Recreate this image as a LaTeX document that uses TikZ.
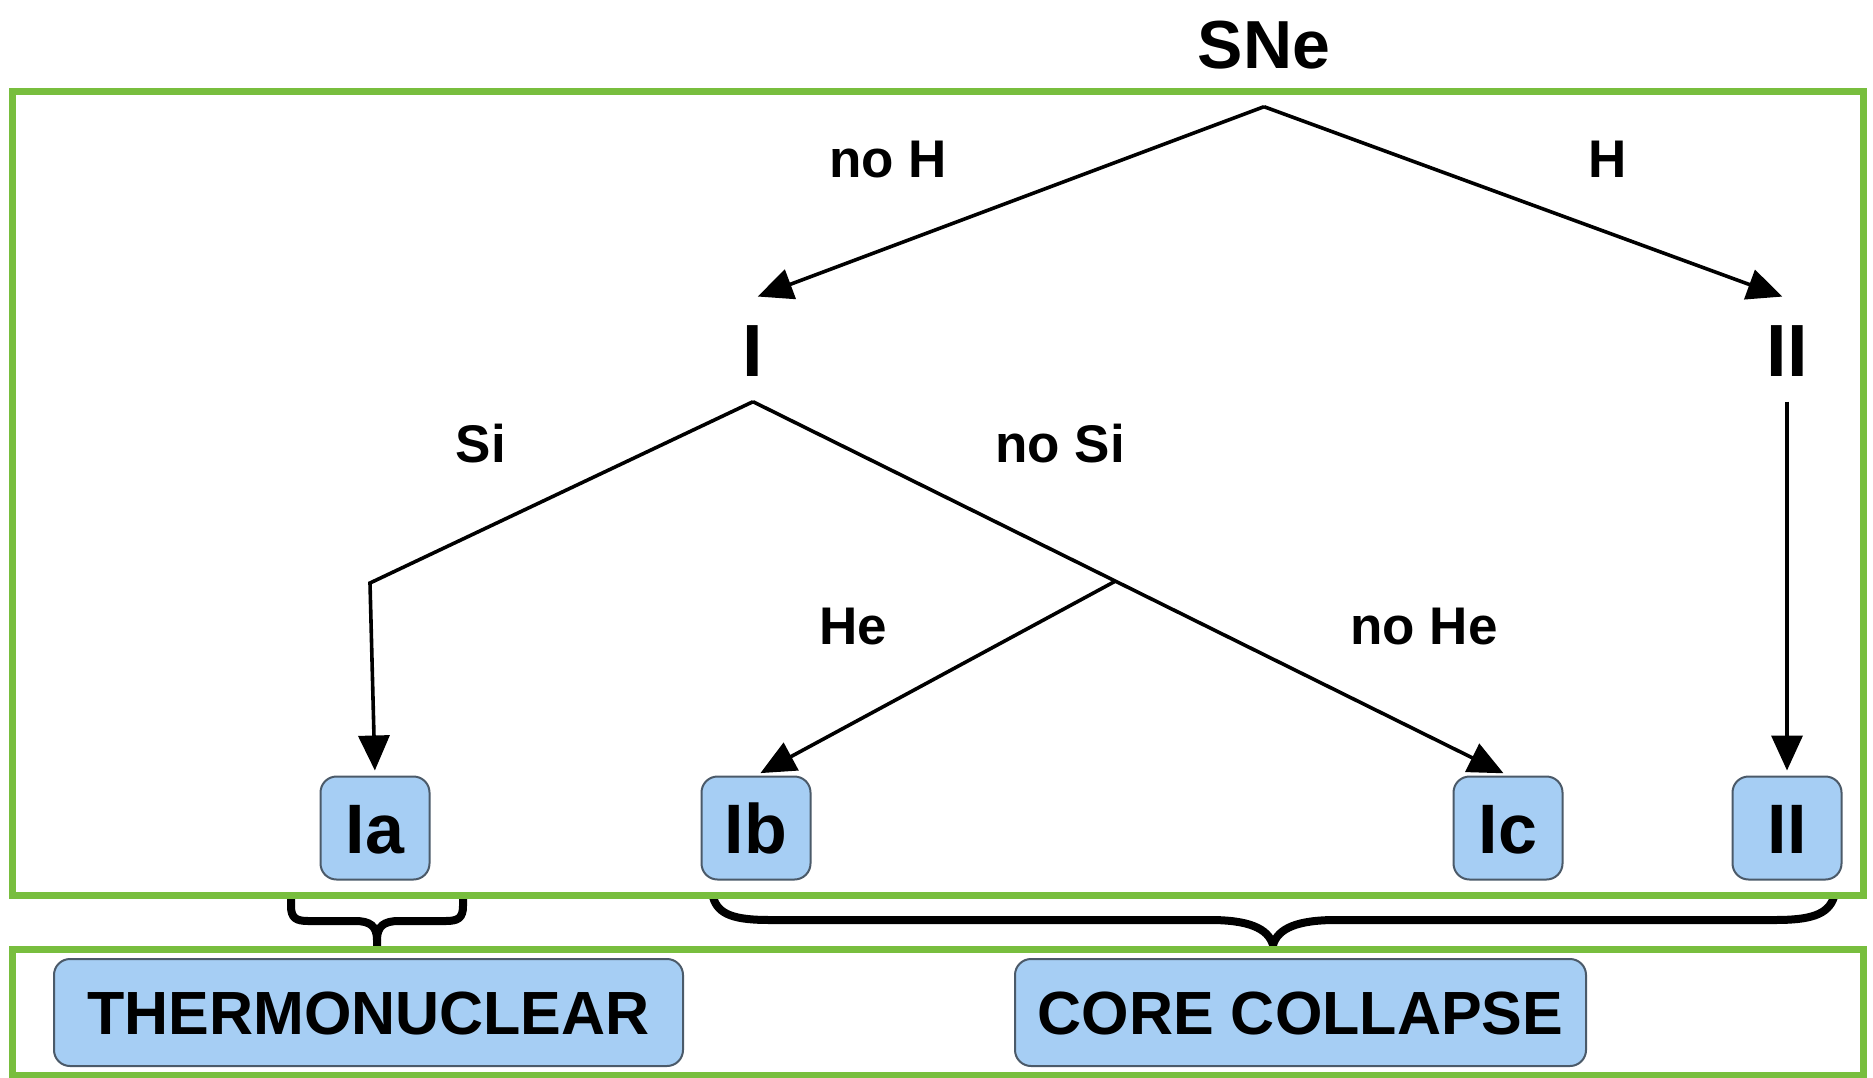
\documentclass[tikz,border=0pt]{standalone}
\usepackage{fontspec}
\setmainfont{Liberation Sans}
\usetikzlibrary{arrows.meta,calc}
\definecolor{frgreen}{RGB}{120,190,62}
\definecolor{boxblue}{RGB}{166,206,244}
\definecolor{boxline}{RGB}{75,90,105}
\newcommand\myfs[1]{\fontsize{#1}{#1}\selectfont\bfseries}
\begin{document}
\begin{tikzpicture}[x=1pt,y=-1pt,
 frame/.style={draw=frgreen,line width=7pt},
 typebox/.style={draw=boxline,fill=boxblue,line width=2pt,rounded corners=16pt,minimum width=109pt,minimum height=103pt,inner sep=0pt,font=\myfs{70},text height=51pt,text depth=0pt},
 classbox/.style={draw=boxline,fill=boxblue,line width=2pt,rounded corners=16pt,minimum height=107pt,inner sep=0pt,font=\myfs{61},text height=44pt,text depth=0pt},
 head/.style={inner xsep=0pt,inner ysep=25pt,font=\myfs{74},text height=53pt,text depth=0pt},
 cond/.style={inner sep=0pt,font=\myfs{53},text height=38pt,text depth=0pt},
 arr/.style={line width=3.6pt,shorten >=5pt,-{Triangle[length=35pt,width=31pt]}},
 bracestroke/.style={line width=8pt,line cap=round}]
\useasboundingbox (0,0) rectangle (1873,1078);
\fill[white] (0,0) rectangle (1873,1078);

% braces (drawn first, frames cover their ends)
\draw[bracestroke] (291,897) -- (291,906) .. controls (291,918) and (296,921) .. (308,921) -- (355,921) .. controls (370,921) and (377,926) .. (377,940) -- (377,948);
\draw[bracestroke] (463,897) -- (463,906) .. controls (463,918) and (458,921) .. (446,921) -- (399,921) .. controls (384,921) and (377,926) .. (377,940);
\draw[bracestroke] (713,897) .. controls (718,915) and (735,920) .. (770,920) -- (1210,920) .. controls (1248,920) and (1268,928) .. (1273,945);
\draw[bracestroke] (1834,897) .. controls (1828,915) and (1810,920) .. (1775,920) -- (1336,920) .. controls (1298,920) and (1278,928) .. (1273,945);

% green frames
\draw[frame] (12,92) rectangle (1863,895);
\draw[frame] (12,949) rectangle (1863,1075);

% nodes
\node[head,font=\myfs{68},text height=47pt,inner ysep=38pt] (sne) at (1264,45) {SNe};
\node[head] (I) at (753,350) {I};
\node[head] (II) at (1787,350) {II};
\node[typebox] (Ia) at (375,828) {Ia};
\node[typebox] (Ib) at (756,828) {Ib};
\node[typebox] (Ic) at (1508,828) {Ic};
\node[typebox] (IIb) at (1787,828) {II};
\node[classbox,minimum width=629pt] (thermo) at (368.5,1012.5) {THERMONUCLEAR};
\node[classbox,minimum width=571pt] (core) at (1300.5,1012.5) {CORE COLLAPSE};

% condition labels
\node[cond] (lnoH) at (888,159) {no H};
\node[cond] (lH) at (1608,159) {H};
\node[cond] (lSi) at (481,443) {Si};
\node[cond] (lnoSi) at (1060,443) {no Si};
\node[cond] (lHe) at (853,625) {He};
\node[cond] (lnoHe) at (1424,625) {no He};

% connectors
\coordinate (siBend) at (370,583);
\coordinate (fork) at ($(I.south)!0.48!(Ic.north)$);
\draw[arr] (sne.south) -- (I.north);
\draw[arr] (sne.south) -- (II.north);
\draw[arr] (I.south) -- (siBend) -- (Ia.north);
\draw[arr] (I.south) -- (Ic.north);
\draw[arr] (fork) -- (Ib.north);
\draw[arr] (II.south) -- (IIb.north);
\end{tikzpicture}
\end{document}
